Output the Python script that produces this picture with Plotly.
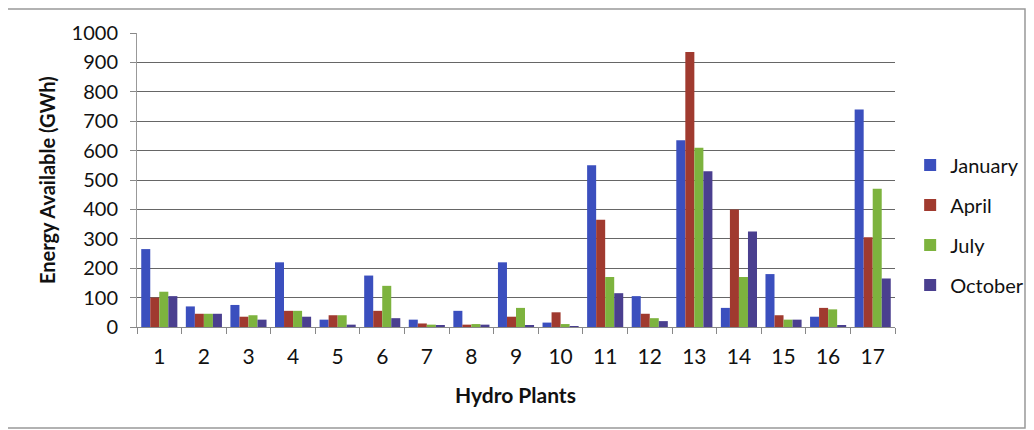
import plotly.graph_objects as go

plants = [str(i) for i in range(1, 18)]
january = [265, 70, 75, 220, 25, 175, 25, 55, 220, 15, 550, 105, 635, 65, 180, 35, 740]
april = [100, 45, 35, 55, 40, 55, 12, 8, 35, 50, 365, 45, 935, 400, 40, 65, 305]
july = [120, 45, 40, 55, 40, 140, 8, 10, 65, 10, 170, 30, 610, 170, 25, 60, 470]
october = [105, 45, 25, 35, 8, 30, 5, 8, 5, 1, 115, 20, 530, 325, 25, 5, 165]
y_ticks = [0, 100, 200, 300, 400, 500, 600, 700, 800, 900, 1000]

series = [
    ("January", january, "#3B4FBE"),
    ("April", april, "#A03A2F"),
    ("July", july, "#7DB33E"),
    ("October", october, "#4A3F8F"),
]

FONT = "Lato, Open Sans, Arial"

fig = go.Figure()
for name, vals, col in series:
    fig.add_trace(go.Bar(x=plants, y=vals, name=name, legendgroup=name,
                         marker=dict(color=col, line=dict(width=0))))

fig.update_layout(
    width=1026, height=422,
    margin=dict(l=129, r=139, t=25, b=103, autoexpand=False),
    paper_bgcolor="white", plot_bgcolor="white",
    barmode="group", bargap=0.19, bargroupgap=0,
    font=dict(family=FONT, color="#111111"),
    showlegend=True,
    legend=dict(x=1.02, y=0.347, xanchor="left", yanchor="middle",
                font=dict(size=20, family=FONT, color="#111111"),
                itemwidth=30, tracegroupgap=11, bgcolor="rgba(0,0,0,0)"),
    xaxis=dict(
        type="category", showgrid=False, showline=True, linecolor="#888888", linewidth=1,
        ticks="outside", tickson="boundaries", ticklen=6, tickcolor="#888888",
        tickfont=dict(size=21, family=FONT, color="#111111"),
        ticklabelstandoff=11,
    ),
    yaxis=dict(
        range=[0, 1000], tickvals=y_ticks, showgrid=True, gridcolor="#666666", gridwidth=1,
        showline=True, linecolor="#999999", linewidth=1,
        ticks="outside", ticklen=6, tickcolor="#888888",
        tickfont=dict(size=20, family=FONT, color="#111111"),
        ticklabelstandoff=8,
        zeroline=False,
    ),
    shapes=[dict(type="rect", xref="paper", yref="paper",
                 x0=-0.1715, x1=1.1715, y0=-0.3435, y1=1.082,
                 line=dict(color="#999999", width=1.5))],
    annotations=[
        dict(text="<b>Energy Available (GWh)</b>", xref="paper", yref="paper",
             x=-0.1187, y=0.5, textangle=-90, showarrow=False,
             font=dict(size=20, family=FONT, color="#111111"),
             xanchor="center", yanchor="middle"),
        dict(text="<b>Hydro Plants</b>", xref="paper", yref="paper",
             x=0.499, y=-0.231, showarrow=False,
             font=dict(size=21, family=FONT, color="#111111"),
             xanchor="center", yanchor="middle"),
    ],
)
fig.write_html("out.html")
